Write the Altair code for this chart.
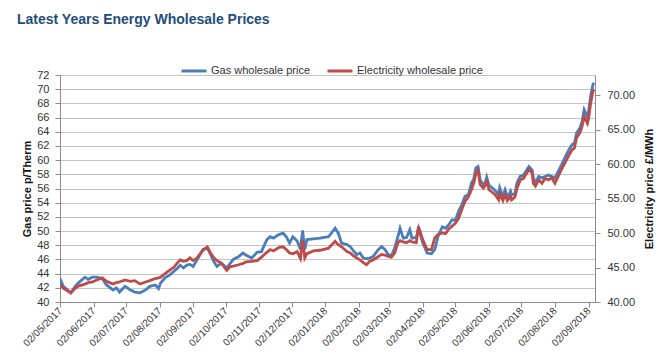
import altair as alt
import pandas as pd

dates = [
    "2017-05-02", "2017-05-05", "2017-05-12", "2017-05-16", "2017-05-19", "2017-05-25", "2017-05-28", "2017-06-01", "2017-06-05", "2017-06-10",
    "2017-06-14", "2017-06-20", "2017-06-23", "2017-06-26", "2017-07-01", "2017-07-06", "2017-07-10", "2017-07-15", "2017-07-20", "2017-07-24",
    "2017-07-29", "2017-08-01", "2017-08-03", "2017-08-07", "2017-08-12", "2017-08-15", "2017-08-18", "2017-08-21", "2017-08-24", "2017-08-27",
    "2017-08-30", "2017-09-02", "2017-09-05", "2017-09-08", "2017-09-11", "2017-09-15", "2017-09-18", "2017-09-21", "2017-09-24", "2017-09-28",
    "2017-10-03", "2017-10-06", "2017-10-09", "2017-10-14", "2017-10-18", "2017-10-21", "2017-10-26", "2017-10-31", "2017-11-04", "2017-11-09",
    "2017-11-12", "2017-11-15", "2017-11-20", "2017-11-24", "2017-11-27", "2017-11-30", "2017-12-03", "2017-12-07", "2017-12-10", "2017-12-12",
    "2017-12-14", "2017-12-16", "2017-12-22", "2017-12-28", "2018-01-05", "2018-01-11", "2018-01-14", "2018-01-17", "2018-01-22", "2018-01-25",
    "2018-01-28", "2018-01-31", "2018-02-03", "2018-02-06", "2018-02-09", "2018-02-12", "2018-02-15", "2018-02-20", "2018-02-23", "2018-02-26",
    "2018-03-01", "2018-03-04", "2018-03-07", "2018-03-10", "2018-03-12", "2018-03-15", "2018-03-18", "2018-03-21", "2018-03-23", "2018-03-27",
    "2018-03-29", "2018-04-02", "2018-04-06", "2018-04-10", "2018-04-13", "2018-04-16", "2018-04-20", "2018-04-23", "2018-04-26", "2018-04-29",
    "2018-05-02", "2018-05-05", "2018-05-08", "2018-05-11", "2018-05-14", "2018-05-17", "2018-05-19", "2018-05-21", "2018-05-23", "2018-05-25",
    "2018-05-28", "2018-05-30", "2018-05-31", "2018-06-02", "2018-06-05", "2018-06-08", "2018-06-11", "2018-06-12", "2018-06-15", "2018-06-17",
    "2018-06-19", "2018-06-22", "2018-06-23", "2018-06-26", "2018-06-28", "2018-07-01", "2018-07-04", "2018-07-07", "2018-07-09", "2018-07-12",
    "2018-07-13", "2018-07-15", "2018-07-18", "2018-07-21", "2018-07-24", "2018-07-27", "2018-07-30", "2018-08-02", "2018-08-05", "2018-08-08",
    "2018-08-11", "2018-08-15", "2018-08-18", "2018-08-20", "2018-08-22", "2018-08-25", "2018-08-27", "2018-08-29", "2018-09-01", "2018-09-02",
    "2018-09-04", "2018-09-06", "2018-09-07",
]

gas_price = [
    43.3, 42.2, 41.3, 42.2, 42.7, 43.5, 43.2, 43.5, 43.5, 43.3,
    42.4, 41.7, 42.0, 41.4, 42.2, 41.7, 41.4, 41.3, 41.7, 42.2,
    42.4, 41.9, 42.7, 43.4, 43.9, 44.3, 44.7, 45.2, 44.8, 45.2,
    45.3, 45.0, 45.8, 46.6, 47.4, 47.6, 46.7, 45.7, 45.0, 45.5,
    44.8, 45.4, 46.0, 46.4, 46.9, 46.6, 46.2, 47.0, 47.1, 48.8,
    49.2, 49.0, 49.5, 49.7, 49.2, 48.3, 49.2, 48.6, 47.4, 50.1,
    47.4, 48.8, 48.9, 49.0, 49.2, 50.4, 49.7, 48.3, 48.1, 47.8,
    47.2, 46.7, 46.9, 46.2, 46.1, 46.2, 46.4, 47.4, 47.8, 47.4,
    46.7, 46.5, 47.6, 49.2, 50.4, 49.0, 49.1, 50.2, 49.0, 49.1,
    50.4, 48.3, 46.9, 46.8, 47.4, 49.2, 50.6, 50.4, 50.9, 51.6,
    51.5, 52.8, 53.7, 54.9, 55.1, 56.8, 57.3, 58.9, 59.1, 57.2,
    56.5, 57.0, 57.6, 56.5, 56.1, 55.7, 55.1, 56.1, 54.9, 55.8,
    54.7, 55.6, 55.1, 55.3, 56.8, 57.7, 57.9, 58.6, 59.1, 58.6,
    57.5, 56.8, 57.7, 57.5, 57.7, 57.9, 57.7, 57.5, 58.4, 59.3,
    60.3, 61.5, 62.2, 62.4, 63.8, 64.5, 65.4, 67.1, 66.1, 66.8,
    69.0, 70.6, 70.9,
]

electricity_price = [
    42.5, 42.0, 41.3, 42.0, 42.3, 42.6, 42.8, 42.9, 43.2, 43.5,
    43.0, 42.6, 42.8, 42.9, 43.2, 43.0, 43.1, 42.6, 42.9, 43.1,
    43.4, 43.5, 43.6, 44.1, 44.7, 45.0, 45.6, 46.1, 45.9, 46.0,
    46.4, 46.0, 46.3, 46.9, 47.5, 48.0, 47.1, 46.4, 46.0, 45.6,
    44.6, 45.1, 45.2, 45.4, 45.6, 45.8, 45.9, 46.0, 46.5, 47.2,
    47.6, 47.4, 47.9, 48.0, 47.6, 47.1, 47.0, 47.3, 46.3, 49.0,
    46.4, 47.0, 47.4, 47.5, 47.8, 48.8, 48.3, 48.0, 47.3, 47.1,
    46.7, 46.4, 46.1, 45.7, 45.4, 45.9, 46.1, 46.6, 46.9, 46.8,
    46.6, 46.5, 47.1, 48.6, 48.9, 48.7, 48.6, 48.9, 48.7, 48.6,
    50.9, 49.0, 47.6, 47.6, 49.3, 49.8, 50.0, 49.9, 50.6, 51.0,
    51.4, 52.1, 53.4, 54.6, 55.2, 56.3, 57.2, 58.6, 59.1, 57.0,
    56.5, 57.0, 57.7, 56.3, 55.9, 55.5, 54.8, 55.7, 54.7, 55.6,
    54.7, 55.3, 54.8, 55.2, 56.5, 57.7, 57.9, 58.7, 59.2, 58.7,
    57.2, 56.8, 57.7, 57.2, 57.9, 57.7, 58.0, 57.2, 58.2, 59.2,
    60.1, 61.3, 62.1, 62.3, 63.8, 64.5, 65.4, 66.9, 65.9, 66.5,
    68.8, 70.5, 70.8,
]

tick_dates = [
    "2017-05-02", "2017-06-02", "2017-07-02", "2017-08-02", "2017-09-02", "2017-10-02",
    "2017-11-02", "2017-12-02", "2018-01-02", "2018-02-02", "2018-03-02", "2018-04-02",
    "2018-05-02", "2018-06-02", "2018-07-02", "2018-08-02", "2018-09-02",
]
x_start = "2017-05-02"
x_end = "2018-09-08"

series_names = ["Gas wholesale price", "Electricity wholesale price"]
series_colors = ["#4A7EBB", "#BE4B48"]
gas_ticks = list(range(40, 73, 2))
elec_ticks = [40, 45, 50, 55, 60, 65, 70]


def dt(s):
    y, m, d = (int(v) for v in s.split("-"))
    return alt.DateTime(year=y, month=m, date=d, utc=True)


df = pd.DataFrame({"date": dates, "gas": gas_price, "elec": electricity_price})
df["gas_series"] = series_names[0]
df["elec_series"] = series_names[1]

FONT = "Liberation Sans"
AXIS_COL = "#8c8c8c"
TEXT_COL = "#333333"

color_scale = alt.Scale(domain=series_names, range=series_colors)
legend = alt.Legend(
    orient="none", legendX=120, legendY=-18, direction="horizontal", title=None,
    symbolType="stroke", symbolSize=625, symbolStrokeWidth=3, labelFontSize=11,
    labelFont=FONT, labelColor=TEXT_COL, columnPadding=10, labelOffset=3, padding=0,
)

x_enc = alt.X(
    "date:T",
    scale=alt.Scale(type="utc", domain=[dt(x_start), dt(x_end)], nice=False),
    axis=alt.Axis(
        values=[dt(s) for s in tick_dates], format="%d/%m/%Y", labelAngle=315,
        labelAlign="right", labelBaseline="middle", labelPadding=2, tickSize=5,
        grid=False, title=None, domainColor=AXIS_COL, tickColor=AXIS_COL,
        labelFont=FONT, labelFontSize=10, labelColor=TEXT_COL, labelOverlap=False,
    ),
)

gas_line = alt.Chart(df).mark_line(strokeWidth=2.8, clip=True).encode(
    x=x_enc,
    y=alt.Y(
        "gas:Q",
        scale=alt.Scale(domain=[40, 72], nice=False, zero=False),
        axis=alt.Axis(
            values=gas_ticks, title="Gas price p/Therm", grid=True, gridColor="#c4c4c4",
            domainColor=AXIS_COL, tickColor=AXIS_COL, tickSize=5, labelPadding=6,
            labelFont=FONT, labelFontSize=11, labelColor=TEXT_COL,
            titleFont=FONT, titleFontSize=11, titleFontWeight="bold", titleColor="#111111",
            titlePadding=4,
        ),
    ),
    color=alt.Color("gas_series:N", scale=color_scale, legend=legend),
)

elec_line = alt.Chart(df).mark_line(strokeWidth=2.8, clip=True).encode(
    x=x_enc,
    y=alt.Y(
        "elec:Q",
        scale=alt.Scale(domain=[40, 72.9], nice=False, zero=False),
        axis=alt.Axis(
            orient="right", values=elec_ticks, format=".2f", title="Electricity price £/MWh",
            grid=False, domainColor=AXIS_COL, tickColor=AXIS_COL, tickSize=5, labelPadding=7,
            labelFont=FONT, labelFontSize=11, labelColor=TEXT_COL,
            titleFont=FONT, titleFontSize=11, titleFontWeight="bold", titleColor="#111111",
            titleAngle=270, titlePadding=20,
        ),
    ),
    color=alt.Color("elec_series:N", scale=color_scale, legend=legend),
)

chart = (
    alt.layer(gas_line, elec_line)
    .resolve_scale(y="independent")
    .properties(
        width=535,
        height=227,
        autosize=alt.AutoSizeParams(type="none"),
        padding={"left": 60, "top": 75, "right": 76, "bottom": 55},
        title=alt.TitleParams(
            "Latest Years Energy Wholesale Prices", anchor="start", frame="group",
            font=FONT, fontSize=14, fontWeight="bold", color="#1F4E79",
            dx=-43, offset=30,
        ),
    )
    .configure_view(strokeWidth=0)
    .configure(background="white")
)

chart.save("out.html", embed_options={"renderer": "svg", "actions": False})
